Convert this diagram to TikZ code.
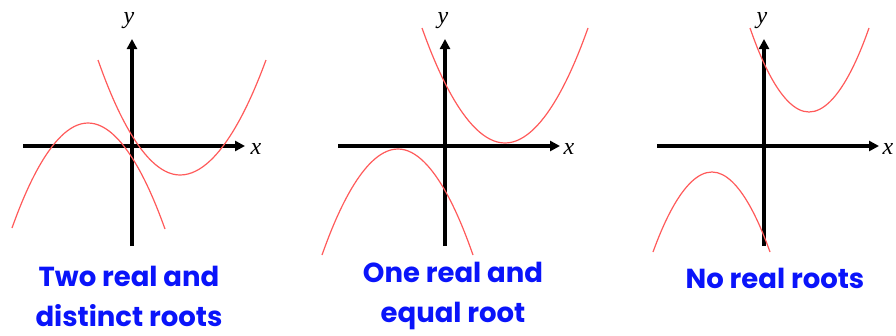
\documentclass[tikz,border=0pt]{standalone}
\usepackage{fontspec}
\setmainfont{Liberation Serif}
\newfontfamily\lblfont{Poppins}
\usetikzlibrary{arrows.meta}
\definecolor{curvered}{RGB}{255,90,90}
\definecolor{lblblue}{RGB}{10,20,250}
\tikzset{
  axis/.style={line width=3.4pt,-{Triangle[length=10pt,width=10pt]}},
  curve/.style={curvered,line width=1.2pt},
  axlabel/.style={inner sep=0pt,font=\fontsize{24}{24}\selectfont\itshape},
  caption/.style={text=lblblue,align=center,inner sep=0pt,font=\lblfont\bfseries\fontsize{27.5}{40}\selectfont}
}
\begin{document}
\begin{tikzpicture}[x=1pt,y=-1pt]
\useasboundingbox (0,0) rectangle (896,335);
% ---------- panel 1 ----------
\coordinate (a1l) at (23,146);
\coordinate (a1r) at (245,146);
\coordinate (a1b) at (132,246);
\coordinate (a1t) at (132,39);
\draw[axis] (a1l) -- (a1r);
\draw[axis] (a1b) -- (a1t);
\node[axlabel] (x1) at (256,149) {x};
\node[axlabel] (y1) at (129,21) {y};
\coordinate (p1s) at (98,60);
\coordinate (p1v) at (180,175);
\coordinate (p1e) at (266,60);
\draw[curve] (p1s) parabola bend (p1v) (p1e);
\coordinate (q1s) at (12,228);
\coordinate (q1v) at (88,123);
\coordinate (q1e) at (165,229);
\draw[curve] (q1s) parabola bend (q1v) (q1e);
\node[caption] (c1) at (129,296) {Two real and\\distinct roots};
% ---------- panel 2 ----------
\coordinate (a2l) at (338,146);
\coordinate (a2r) at (560,146);
\coordinate (a2b) at (445,246);
\coordinate (a2t) at (445,39);
\draw[axis] (a2l) -- (a2r);
\draw[axis] (a2b) -- (a2t);
\node[axlabel] (x2) at (569,149) {x};
\node[axlabel] (y2) at (443,21) {y};
\coordinate (p2s) at (422,28);
\coordinate (p2v) at (505,143);
\coordinate (p2e) at (588,28);
\draw[curve] (p2s) parabola bend (p2v) (p2e);
\coordinate (q2s) at (322,255);
\coordinate (q2v) at (398,149);
\coordinate (q2e) at (473,255);
\draw[curve] (q2s) parabola bend (q2v) (q2e);
\node[caption] (c2) at (453,296) {One real and\\equal root};
% ---------- panel 3 ----------
\coordinate (a3l) at (657,146);
\coordinate (a3r) at (879,146);
\coordinate (a3b) at (764,246);
\coordinate (a3t) at (764,39);
\draw[axis] (a3l) -- (a3r);
\draw[axis] (a3b) -- (a3t);
\node[axlabel] (x3) at (888,149) {x};
\node[axlabel] (y3) at (762,21) {y};
\coordinate (p3s) at (750,28);
\coordinate (p3v) at (809,112);
\coordinate (p3e) at (869,28);
\draw[curve] (p3s) parabola bend (p3v) (p3e);
\coordinate (q3s) at (653,252);
\coordinate (q3v) at (712,172);
\coordinate (q3e) at (770,252);
\draw[curve] (q3s) parabola bend (q3v) (q3e);
\node[caption] (c3) at (775,278) {No real roots};
\end{tikzpicture}
\end{document}
